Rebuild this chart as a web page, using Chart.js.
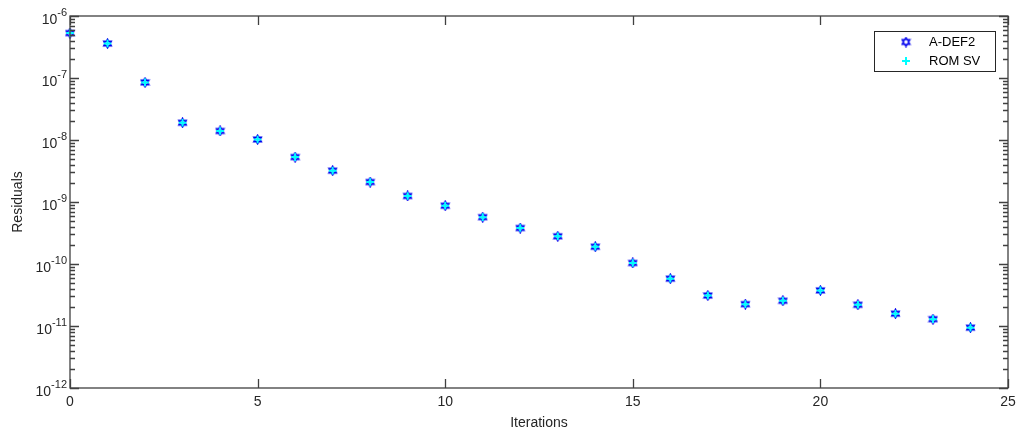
<!DOCTYPE html>
<html>
<head>
<meta charset="utf-8">
<script src="https://cdn.jsdelivr.net/npm/chart.js@4.4.0/dist/chart.umd.min.js"></script>
<style>
  html, body { margin: 0; padding: 0; background: #fff; }
  #wrap { width: 1016px; height: 432px; }
</style>
</head>
<body>
<div id="wrap"><canvas id="grafico"></canvas></div>
<script>
// dados
const iteracoes = [0, 1, 2, 3, 4, 5, 6, 7, 8, 9, 10, 11, 12, 13, 14, 15, 16, 17, 18, 19, 20, 21, 22, 23, 24];
const residuosADef2 = [5.3e-7, 3.6e-7, 8.5e-8, 1.9e-8, 1.4e-8, 1.02e-8, 5.3e-9, 3.2e-9, 2.1e-9, 1.25e-9, 8.7e-10, 5.7e-10, 3.8e-10, 2.8e-10, 1.9e-10, 1.04e-10, 5.8e-11, 3.1e-11, 2.25e-11, 2.55e-11, 3.75e-11, 2.2e-11, 1.58e-11, 1.29e-11, 9.4e-12];
const residuosRomSv = [5.3e-7, 3.6e-7, 8.5e-8, 1.9e-8, 1.4e-8, 1.02e-8, 5.3e-9, 3.2e-9, 2.1e-9, 1.25e-9, 8.7e-10, 5.7e-10, 3.8e-10, 2.8e-10, 1.9e-10, 1.04e-10, 5.8e-11, 3.1e-11, 2.25e-11, 2.55e-11, 3.75e-11, 2.2e-11, 1.58e-11, 1.29e-11, 9.4e-12];
const ticksX = [0, 5, 10, 15, 20, 25];
const expoentesY = [-12, -11, -10, -9, -8, -7, -6];
const rotulos = ["A-DEF2", "ROM SV"];

const fonte = "'Liberation Sans', Arial, Helvetica, sans-serif";
const corEixo = "#404040";
const corTexto = "#262626";

// marcador hexagrama (estilo MATLAB 'h')
function criarHexagrama(cor) {
  const c = document.createElement("canvas");
  c.width = 11; c.height = 11;
  const g = c.getContext("2d");
  const r = 4.2, ri = r / Math.sqrt(3);
  g.beginPath();
  for (let i = 0; i < 12; i++) {
    const a = -Math.PI / 2 + i * Math.PI / 6;
    const rr = i % 2 === 0 ? r : ri;
    g.lineTo(5.5 + rr * Math.cos(a), 5.5 + rr * Math.sin(a));
  }
  g.closePath();
  g.strokeStyle = cor;
  g.lineWidth = 1.6;
  g.stroke();
  return c;
}
const hexagrama = criarHexagrama("#0000ee");

function pontos(ys) {
  return iteracoes.map((x, i) => ({ x: x, y: ys[i] }));
}

// plugin: caixa, ticks para dentro, rótulos 10^n e legenda
const eixosMatlab = {
  id: "eixosMatlab",
  afterDraw(chart) {
    const ctx = chart.ctx;
    const a = chart.chartArea;
    const sx = chart.scales.x, sy = chart.scales.y;
    ctx.save();
    ctx.strokeStyle = corEixo;
    ctx.lineWidth = 1.3;
    ctx.strokeRect(a.left, a.top, a.right - a.left, a.bottom - a.top);

    ctx.beginPath();
    ticksX.forEach(v => {
      const px = Math.round(sx.getPixelForValue(v)) + 0.5;
      ctx.moveTo(px, a.bottom); ctx.lineTo(px, a.bottom - 9);
      ctx.moveTo(px, a.top); ctx.lineTo(px, a.top + 9);
    });
    expoentesY.forEach((e, i) => {
      const py = Math.round(sy.getPixelForValue(Math.pow(10, e))) + 0.5;
      ctx.moveTo(a.left, py); ctx.lineTo(a.left + 9, py);
      ctx.moveTo(a.right, py); ctx.lineTo(a.right - 9, py);
      if (i < expoentesY.length - 1) {
        for (let m = 2; m <= 9; m++) {
          const pm = Math.round(sy.getPixelForValue(m * Math.pow(10, e))) + 0.5;
          ctx.moveTo(a.left, pm); ctx.lineTo(a.left + 5, pm);
          ctx.moveTo(a.right, pm); ctx.lineTo(a.right - 5, pm);
        }
      }
    });
    ctx.stroke();

    // rótulos do eixo y
    ctx.fillStyle = corTexto;
    ctx.textBaseline = "alphabetic";
    expoentesY.forEach(e => {
      const py = sy.getPixelForValue(Math.pow(10, e));
      const exp = String(e);
      ctx.font = "11px " + fonte;
      const wExp = ctx.measureText(exp).width;
      ctx.font = "14px " + fonte;
      const wBase = ctx.measureText("10").width;
      const xFim = a.left - 3;
      ctx.textAlign = "left";
      ctx.fillText("10", xFim - wExp - wBase, py + 8);
      ctx.font = "11px " + fonte;
      ctx.fillText(exp, xFim - wExp, py);
    });

    // legenda
    const lx = 874, ly = 31, lw = 121, lh = 40;
    ctx.fillStyle = "#fff";
    ctx.fillRect(lx, ly, lw, lh);
    ctx.strokeStyle = "#262626";
    ctx.lineWidth = 1;
    ctx.strokeRect(lx + 0.5, ly + 0.5, lw, lh);
    ctx.drawImage(hexagrama, 906 - 5.5, 42 - 5.5);
    ctx.strokeStyle = "#00ffff";
    ctx.lineWidth = 2;
    ctx.beginPath();
    ctx.moveTo(906 - 4, 61); ctx.lineTo(906 + 4, 61);
    ctx.moveTo(906, 61 - 4); ctx.lineTo(906, 61 + 4);
    ctx.stroke();
    ctx.fillStyle = "#000";
    ctx.font = "13px " + fonte;
    ctx.textAlign = "left";
    ctx.textBaseline = "middle";
    ctx.fillText(rotulos[0], 929, 42);
    ctx.fillText(rotulos[1], 929, 61);
    ctx.restore();
  }
};

new Chart(document.getElementById("grafico"), {
  type: "scatter",
  data: {
    datasets: [
      {
        label: rotulos[0],
        data: pontos(residuosADef2),
        pointStyle: hexagrama,
        pointRadius: 5,
        clip: false,
        order: 1
      },
      {
        label: rotulos[1],
        data: pontos(residuosRomSv),
        pointStyle: "cross",
        pointRadius: 3.8,
        borderColor: "#00ffff",
        borderWidth: 2,
        clip: false,
        order: 0
      }
    ]
  },
  options: {
    responsive: true,
    maintainAspectRatio: false,
    animation: false,
    devicePixelRatio: 1,
    layout: { padding: { top: 16, right: 8, left: 0, bottom: 0 } },
    plugins: { legend: { display: false }, tooltip: { enabled: false } },
    scales: {
      x: {
        type: "linear",
        min: 0,
        max: 25,
        afterBuildTicks: s => { s.ticks = ticksX.map(v => ({ value: v })); },
        afterFit: s => { s.height = 44; s.paddingLeft = 0; s.paddingRight = 0; },
        grid: { display: false, drawTicks: false },
        border: { display: false },
        ticks: { color: corTexto, font: { family: fonte, size: 14 }, padding: 6, maxRotation: 0 },
        title: { display: true, text: "Iterations", color: corTexto, font: { family: fonte, size: 14 }, padding: { top: 0, bottom: 0 } }
      },
      y: {
        type: "logarithmic",
        min: 1e-12,
        max: 1e-6,
        afterFit: s => { s.width = 70; s.paddingTop = 0; s.paddingBottom = 0; },
        grid: { display: false, drawTicks: false },
        border: { display: false },
        ticks: { display: false },
        title: { display: true, text: "Residuals", color: corTexto, font: { family: fonte, size: 14 }, padding: { top: 10, bottom: 0 } }
      }
    }
  },
  plugins: [eixosMatlab]
});
</script>
</body>
</html>
